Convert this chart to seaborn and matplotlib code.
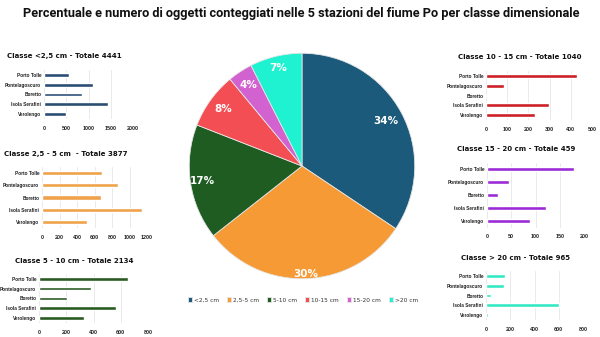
import matplotlib
matplotlib.use("Agg")
import matplotlib.pyplot as plt
import seaborn as sns
import pandas as pd
import numpy as np

# Size classes and their totals
classes = ["<2,5 cm", "2,5-5 cm", "5-10 cm", "10-15 cm", "15-20 cm", ">20 cm"]
totals = [4441, 3877, 2134, 1040, 459, 965]
pie_colors = ["#1b5a7a", "#f59a35", "#1e5c22", "#f24e53", "#d262cf", "#1ff2d0"]
bar_colors = ["#2a4d72", "#f0a24a", "#2a5a22", "#cc2026", "#9b2bd6", "#35e8c4"]

stations = ["Porto Tolle", "Pontelagoscuro", "Boretto", "Isola Serafini", "Verolengo"]

# Counts per station for each class
counts_lt2_5 = [560, 1100, 860, 1430, 491]
counts_2_5_5 = [680, 870, 670, 1140, 517]
counts_5_10 = [650, 385, 205, 565, 329]
counts_10_15 = [430, 85, 0, 295, 230]
counts_15_20 = [180, 45, 23, 122, 89]
counts_gt20 = [155, 148, 42, 600, 20]

panel_titles = [
    "Classe <2,5 cm - Totale 4441",
    "Classe 2,5 - 5 cm  - Totale 3877",
    "Classe 5 - 10 cm - Totale 2134",
    "Classe 10 - 15 cm - Totale 1040",
    "Classe 15 - 20 cm - Totale 459",
    "Classe > 20 cm - Totale 965",
]
x_ticks = [
    [0, 500, 1000, 1500, 2000],
    [0, 200, 400, 600, 800, 1000, 1200],
    [0, 200, 400, 600, 800],
    [0, 100, 200, 300, 400, 500],
    [0, 50, 100, 150, 200],
    [0, 200, 400, 600, 800],
]
all_counts = [counts_lt2_5, counts_2_5_5, counts_5_10, counts_10_15, counts_15_20, counts_gt20]

sns.set_theme(style="white")
plt.rcParams["font.family"] = ["DejaVu Sans"]
NARROW = ["Liberation Sans Narrow", "Roboto", "DejaVu Sans"]
ARIAL = ["Liberation Sans", "DejaVu Sans"]

W, H = 600, 337
fig = plt.figure(figsize=(W / 100, H / 100), dpi=100)
fig.patch.set_facecolor("white")


def px_axes(x0, y0, x1, y1):
    """Axes from pixel box (top-left origin)."""
    return fig.add_axes([x0 / W, 1 - y1 / H, (x1 - x0) / W, (y1 - y0) / H])


fig.text(301 / W, 1 - 13 / H,
         "Percentuale e numero di oggetti conteggiati nelle 5 stazioni del fiume Po per classe dimensionale",
         ha="center", va="center", fontsize=9.2, fontweight="bold", color="#111111",
         family=NARROW)

# Pie chart in the middle
pax = px_axes(187, 51, 417, 281)
wedges, _, autotexts = pax.pie(
    totals, colors=pie_colors, startangle=90, counterclock=False,
    autopct=lambda p: f"{p:.0f}%", pctdistance=0.87,
    wedgeprops=dict(edgecolor="#e6e6e6", linewidth=0.6),
    textprops=dict(color="white", fontsize=7.5, fontweight="bold"),
)
# radial placement of the percentage labels
label_dist = [0.84, 0.96, 0.89, 0.86, 0.86, 0.89]
for w, t, d in zip(wedges, autotexts, label_dist):
    ang = np.deg2rad((w.theta1 + w.theta2) / 2)
    t.set_position((d * np.cos(ang), d * np.sin(ang)))
pax.set_xlim(-1.02, 1.02)
pax.set_ylim(-1.02, 1.02)
pax.set_aspect("equal")

leg = fig.legend(wedges, classes, loc="center", bbox_to_anchor=(303 / W, 1 - 300 / H),
                 ncol=6, frameon=False, fontsize=4.2, handlelength=0.7, handleheight=0.7,
                 handletextpad=0.3, columnspacing=1.4)
for t in leg.get_texts():
    t.set_color("#333333")

# Pixel boxes: (axes left, axes right, first-bar centre y, bar spacing, title x, title y)
boxes = [
    (44, 133, 75, 9.75, 7, 56),
    (42, 147, 173, 12.25, 4, 154),
    (39, 148, 279, 9.7, 15, 261),
    (486, 592, 76, 9.75, 458, 57),
    (487, 584, 169, 13.0, 457, 149),
    (486, 583, 276, 9.75, 461, 258),
]

for i, (xl, xr, yc, sp, tx, ty) in enumerate(boxes):
    ax = px_axes(xl, yc - sp / 2, xr, yc + 4.5 * sp)
    df = pd.DataFrame({"station": stations, "count": all_counts[i]})
    sns.barplot(data=df, x="count", y="station", color=bar_colors[i], width=0.36,
                saturation=1, ax=ax)
    ax.set_xlim(x_ticks[i][0], x_ticks[i][-1])
    ax.set_xticks(x_ticks[i])
    ax.set_xlabel("")
    ax.set_ylabel("")
    ax.grid(axis="x", color="#e6e6e6", linewidth=0.6)
    ax.set_axisbelow(True)
    for s in ax.spines.values():
        s.set_visible(False)
    ax.tick_params(axis="x", length=0, labelsize=3.9, colors="#222222", pad=5)
    ax.tick_params(axis="y", length=0, labelsize=3.45, colors="#222222", pad=2)
    for lab in ax.get_yticklabels() + ax.get_xticklabels():
        lab.set_fontweight("bold")
        lab.set_family(ARIAL)
    fig.text(tx / W, 1 - ty / H, panel_titles[i], ha="left", va="center",
             fontsize=5.0, fontweight="bold", color="#111111")

fig.savefig("out.png", dpi=100, facecolor="white")
